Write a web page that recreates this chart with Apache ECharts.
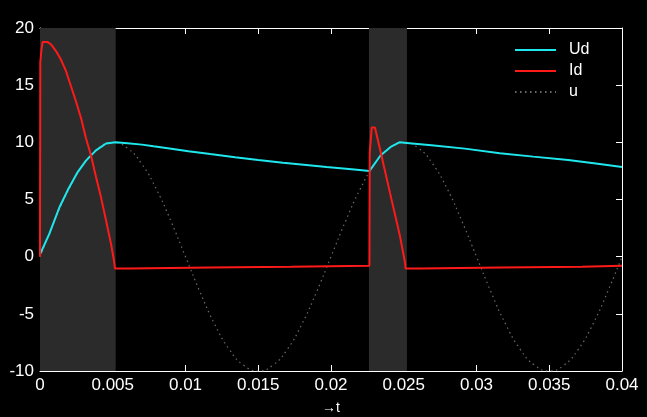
<!DOCTYPE html>
<html><head><meta charset="utf-8">
<script src="https://cdn.jsdelivr.net/npm/echarts@6/dist/echarts.min.js"></script>
<style>html,body{margin:0;padding:0;background:#000}#c{width:647px;height:417px}</style>
</head><body><div id="c"></div>
<script>
// Conduction intervals (shaded bands), seconds
const shadeStart = [0, 0.02261];
const shadeEnd = [0.0052, 0.02522];

// u : supply voltage (dotted), sampled every 1 ms
const uTime = [0,0.001,0.002,0.003,0.004,0.005,0.006,0.007,0.008,0.009,0.010,0.011,0.012,0.013,0.014,0.015,0.016,0.017,0.018,0.019,0.020,0.021,0.022,0.023,0.024,0.025,0.026,0.027,0.028,0.029,0.030,0.031,0.032,0.033,0.034,0.035,0.036,0.037,0.038,0.039,0.040];
const uValues = [0,3.1,5.9,8.1,9.5,10,9.5,8.1,5.9,3.1,0,-3.1,-5.9,-8.1,-9.5,-10,-9.5,-8.1,-5.9,-3.1,0,3.1,5.9,8.1,9.5,10,9.5,8.1,5.9,3.1,0,-3.1,-5.9,-8.1,-9.5,-10,-9.5,-8.1,-5.9,-3.1,0];

// Ud : output voltage (cyan)
const udTime = [0,0.00064,0.00133,0.0019,0.00259,0.00316,0.00385,0.00454,0.0052,0.006,0.007,0.0078,0.0089,0.0102,0.0117,0.0134,0.015,0.0167,0.0183,0.0197,0.0216,0.02265,0.0234,0.0241,0.0247,0.0252,0.0269,0.0292,0.0316,0.0339,0.0363,0.0382,0.04];
const udValues = [0.2,2.0,4.3,5.8,7.4,8.4,9.3,9.9,10.0,9.93,9.8,9.65,9.47,9.22,8.97,8.7,8.45,8.22,8.02,7.85,7.63,7.5,8.85,9.6,10.0,9.95,9.75,9.45,9.05,8.75,8.45,8.15,7.85];

// Id : current (red)
const idTime = [0,0.00002,0.0001,0.00018,0.00053,0.00076,0.0011,0.00144,0.00179,0.00213,0.00247,0.00282,0.00316,0.0035,0.00385,0.00419,0.00454,0.00488,0.00508,0.00515,0.0062,0.00621,0.0117,0.01171,0.01726,0.01727,0.02264,0.02266,0.0228,0.02302,0.02337,0.02405,0.02474,0.0251,0.02512,0.02613,0.02614,0.0317,0.03171,0.03725,0.03726,0.04];
const idValues = [0,17.0,18.1,18.77,18.77,18.56,17.98,17.24,16.22,14.9,13.59,12.12,10.36,8.87,6.97,5.21,3.16,1.12,-0.3,-1.03,-1.03,-0.94,-0.94,-0.88,-0.88,-0.79,-0.79,9.0,11.3,11.3,9.4,5.6,1.8,-0.6,-1.03,-1.03,-0.94,-0.94,-0.88,-0.88,-0.79,-0.79];

const xTickStep = 0.005;
const yTickStep = 5;

const zip = (a, b) => a.map((v, i) => [v, b[i]]);
const FONT = 'Liberation Sans';
const white = '#ffffff';

const baseAxis = {
  splitLine: { show: false },
  axisLine: { show: true, onZero: false, lineStyle: { color: white, width: 1 } },
  axisTick: { show: true, inside: true, length: 6, lineStyle: { color: white } }
};

const chart = echarts.init(document.getElementById('c'), null, { renderer: 'canvas' });
chart.setOption({
  backgroundColor: '#000',
  animation: false,
  grid: { left: 40, right: 25, top: 28, bottom: 46, containLabel: false, outerBoundsMode: 'none' },
  legend: {
    data: ['Ud', 'Id', 'u'],
    orient: 'vertical',
    left: 514, top: 42,
    itemWidth: 41, itemHeight: 14, itemGap: 5,
    padding: 0,
    itemStyle: { opacity: 0 },
    textStyle: { color: white, fontSize: 16, fontFamily: FONT, padding: [0, 0, 0, 8] }
  },
  xAxis: [
    Object.assign({}, baseAxis, {
      type: 'value', min: 0, max: 0.04, interval: xTickStep, position: 'bottom',
      axisLabel: { color: white, fontSize: 17, fontFamily: FONT, margin: 6 },
      name: '→t', nameLocation: 'middle', nameGap: 30,
      nameTextStyle: { color: white, fontSize: 14, fontFamily: FONT }
    }),
    Object.assign({}, baseAxis, {
      type: 'value', min: 0, max: 0.04, interval: xTickStep, position: 'top',
      axisLabel: { show: false }
    })
  ],
  yAxis: [
    Object.assign({}, baseAxis, {
      type: 'value', min: -10, max: 20, interval: yTickStep, position: 'left',
      axisLabel: { color: white, fontSize: 17, fontFamily: FONT, margin: 6 },
      name: 'Ud, Id, u', nameLocation: 'middle', nameGap: 17,
      nameTextStyle: { color: white, fontSize: 16, fontFamily: FONT, padding: [0, 17, 0, 0] }
    }),
    Object.assign({}, baseAxis, {
      type: 'value', min: -10, max: 20, interval: yTickStep, position: 'right',
      axisLabel: { show: false }
    })
  ],
  series: [
    {
      name: 'shade', type: 'line', data: [], silent: true,
      markArea: {
        silent: true,
        itemStyle: { color: '#2b2b2b' },
        data: shadeStart.map((s, i) => [{ xAxis: s }, { xAxis: shadeEnd[i] }])
      }
    },
    {
      name: 'u', type: 'line', data: zip(uTime, uValues), smooth: true,
      showSymbol: false, symbol: 'none', z: 3,
      lineStyle: { color: '#6a6a6a', width: 1.2, type: [1.5, 3.5] },
      itemStyle: { color: '#6a6a6a' }
    },
    {
      name: 'Ud', type: 'line', data: zip(udTime, udValues),
      showSymbol: false, symbol: 'none', z: 4,
      lineStyle: { color: '#1ee8ee', width: 2 },
      itemStyle: { color: '#1ee8ee' }
    },
    {
      name: 'Id', type: 'line', data: zip(idTime, idValues),
      showSymbol: false, symbol: 'none', z: 5,
      lineStyle: { color: '#ff1a1a', width: 2 },
      itemStyle: { color: '#ff1a1a' }
    }
  ]
});
</script>
</body></html>
